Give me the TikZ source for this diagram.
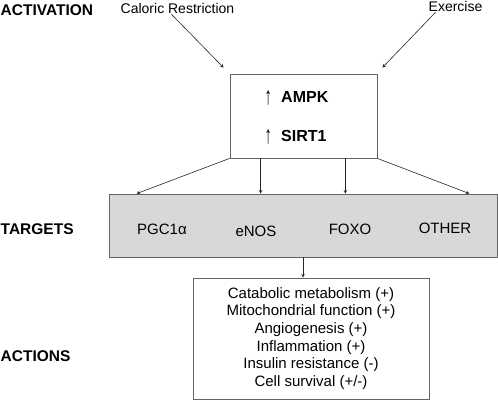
\documentclass[tikz,border=0pt]{standalone}
\usepackage{fontspec}
\setmainfont{Liberation Sans}
\usetikzlibrary{positioning}
\usetikzlibrary{shapes,arrows}
\definecolor{boxGray}{RGB}{216,216,216}
\definecolor{lineGray}{RGB}{100,100,100}
\tikzset{
    objHeading/.style={anchor=west, inner sep=0pt, font=\fontsize{15.5pt}{18pt}\selectfont\bfseries},
    objLabel/.style={inner sep=1pt, font=\fontsize{14pt}{17pt}\selectfont},
    objTarget/.style={inner sep=0pt, font=\fontsize{15pt}{18pt}\selectfont},
    objSignal/.style={anchor=west, inner sep=0pt, font=\fontsize{16pt}{19pt}\selectfont\bfseries},
    objUp/.style={inner sep=0pt, font=\fontsize{16pt}{19pt}\selectfont},
    objRectangle/.style={rectangle, draw=lineGray, line width=0.8pt, text centered},
    arrow/.style={->, >=stealth, line width=0.6pt, draw=black!85}
}
\begin{document}
\begin{tikzpicture}[x=1pt, y=-1pt]
  \useasboundingbox (0,0) rectangle (498,400);

  \node (act) [objHeading] at (0.5,10) {ACTIVATION};
  \node (tar) [objHeading] at (0.5,229) {TARGETS};
  \node (acn) [objHeading] at (0.5,356) {ACTIONS};

  \node (cr) [objLabel] at (177.5,8) {Caloric Restriction};
  \node (ex) [objLabel] at (455.5,6) {Exercise};

  \node (sig) [objRectangle, minimum width=147pt, minimum height=84pt] at (303.5,116) {};
  \node (ampk) [objSignal] at (281,97) {AMPK};
  \node (sirt) [objSignal] at (281,136) {SIRT1};
  \node (upA) [objUp, left=9pt of ampk.west, anchor=east, yshift=-1pt] {\scalebox{0.9}[1.55]{↑}};
  \node (upS) [objUp, left=9pt of sirt.west, anchor=east, yshift=-1pt] {\scalebox{0.9}[1.55]{↑}};

  \node (tgt) [objRectangle, fill=boxGray, minimum width=388pt, minimum height=63pt] at (303,225.5) {};
  \node (pgc) [objTarget] at (162,229) {PGC1α};
  \node (enos) [objTarget] at (256,231) {eNOS};
  \node (foxo) [objTarget] at (350,229) {FOXO};
  \node (oth) [objTarget] at (445,228) {OTHER};

  \node (out) [objRectangle, minimum width=236pt, minimum height=121pt, align=center,
    font=\fontsize{15pt}{17.6pt}\selectfont] at (311,338.5) {Catabolic metabolism (+)\\
    Mitochondrial function (+)\\ Angiogenesis (+)\\ Inflammation (+)\\
    Insulin resistance (-)\\ Cell survival (+/-)};

  \draw[arrow] ([xshift=-6pt]cr.south) -- ([xshift=-6pt, yshift=6pt]sig.north west);
  \draw[arrow] ([xshift=-20pt]ex.south) -- ([xshift=5pt, yshift=6pt]sig.north east);

  \draw[arrow] (sig.south west) -- ([xshift=28pt]tgt.north west);
  \draw[arrow] ([xshift=31pt]sig.south west) -- ([xshift=31pt]sig.south west |- tgt.north);
  \draw[arrow] ([xshift=-32pt]sig.south east) -- ([xshift=-32pt]sig.south east |- tgt.north);
  \draw[arrow] (sig.south east) -- ([xshift=-28pt]tgt.north east);

  \draw[arrow] (tgt.south) -- (tgt.south |- out.north);
\end{tikzpicture}
\end{document}
